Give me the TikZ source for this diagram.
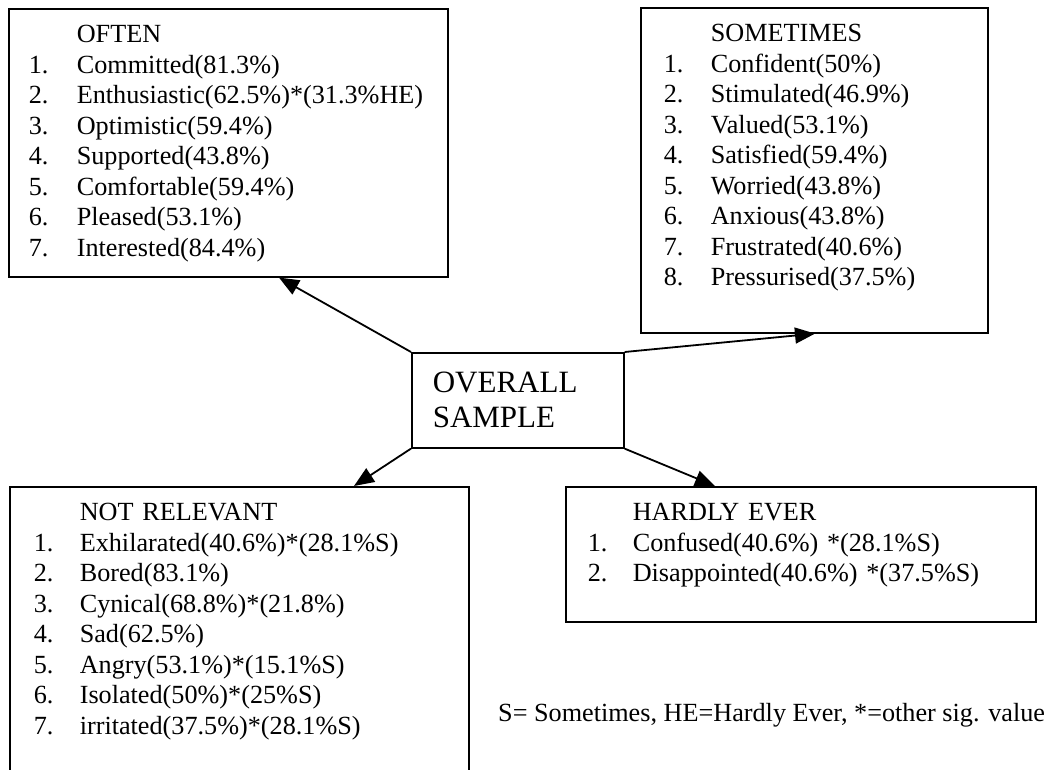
\documentclass[tikz,border=0pt]{standalone}
\usepackage{fontspec}
\setmainfont{Liberation Serif}
\usetikzlibrary{arrows.meta, positioning}
\newcommand\entryfont{\fontsize{26.2}{30.5}\selectfont}
\newcommand\centrefont{\fontsize{31}{35}\selectfont}
\tikzset{
  listbox/.style={
    rectangle, draw, line width=1.6pt, anchor=north west,
    inner sep=0pt, align=left, font=\entryfont, text height=34pt
  },
  centrebox/.style={
    rectangle, draw, line width=1.6pt, anchor=north west,
    inner xsep=21pt, inner ysep=0pt, align=left, font=\centrefont,
    text width=170pt, text height=40pt, text depth=55pt
  },
  arrow/.style={-{Triangle[length=20pt, width=16pt]}, line width=1.8pt},
}

\begin{document}
\begin{tikzpicture}[x=1pt, y=-1pt]
\clip (0,0) rectangle (1056,769);

%% ---- CENTRE ----
\node[centrebox] (overall) at (411,352) {OVERALL\\SAMPLE};

%% ---- OFTEN ----
\node[listbox, text width=439pt, text depth=234pt] (often) at (8,8) {%
  \begin{tabular}[t]{@{\hspace{20pt}}p{48pt}@{}l@{}}
       & OFTEN \\
    1. & Committed(81.3\%) \\
    2. & Enthusiastic(62.5\%)*(31.3\%HE) \\
    3. & Optimistic(59.4\%) \\
    4. & Supported(43.8\%) \\
    5. & Comfortable(59.4\%) \\
    6. & Pleased(53.1\%) \\
    7. & Interested(84.4\%)
  \end{tabular}};

%% ---- SOMETIMES ----
\node[listbox, text width=347pt, text depth=291pt] (sometimes) at (640,7) {%
  \begin{tabular}[t]{@{\hspace{23pt}}p{47pt}@{}l@{}}
       & SOMETIMES \\
    1. & Confident(50\%) \\
    2. & Stimulated(46.9\%) \\
    3. & Valued(53.1\%) \\
    4. & Satisfied(59.4\%) \\
    5. & Worried(43.8\%) \\
    6. & Anxious(43.8\%) \\
    7. & Frustrated(40.6\%) \\
    8. & Pressurised(37.5\%)
  \end{tabular}};

%% ---- NOT RELEVANT ----
\node[listbox, text width=459pt, text depth=290pt] (notrelevant) at (9,486) {%
  \begin{tabular}[t]{@{\hspace{24pt}}p{46pt}@{}l@{}}
       & NOT RELEVANT \\
    1. & Exhilarated(40.6\%)*(28.1\%S) \\
    2. & Bored(83.1\%) \\
    3. & Cynical(68.8\%)*(21.8\%) \\
    4. & Sad(62.5\%) \\
    5. & Angry(53.1\%)*(15.1\%S) \\
    6. & Isolated(50\%)*(25\%S) \\
    7. & irritated(37.5\%)*(28.1\%S)
  \end{tabular}};

%% ---- HARDLY EVER ----
\node[listbox, text width=470pt, text depth=101pt] (hardlyever) at (565,486) {%
  \begin{tabular}[t]{@{\hspace{22pt}}p{45pt}@{}l@{}}
       & HARDLY EVER \\
    1. & Confused(40.6\%) *(28.1\%S) \\
    2. & Disappointed(40.6\%) *(37.5\%S)
  \end{tabular}};

%% ---- KEY ----
\node[anchor=base west, inner sep=0pt, font=\entryfont] (key) at (498,721)
  {S= Sometimes, HE=Hardly Ever, *=other sig. value};

%% ---- ARROWS ----
\draw[arrow] (overall.north west) -- ([xshift=271pt]often.south west);
\draw[arrow] (overall.north east) -- ([xshift=175pt]sometimes.south west);
\draw[arrow] (overall.south west) -- ([xshift=345pt]notrelevant.north west);
\draw[arrow] (overall.south east) -- ([xshift=150pt]hardlyever.north west);

\end{tikzpicture}
\end{document}
